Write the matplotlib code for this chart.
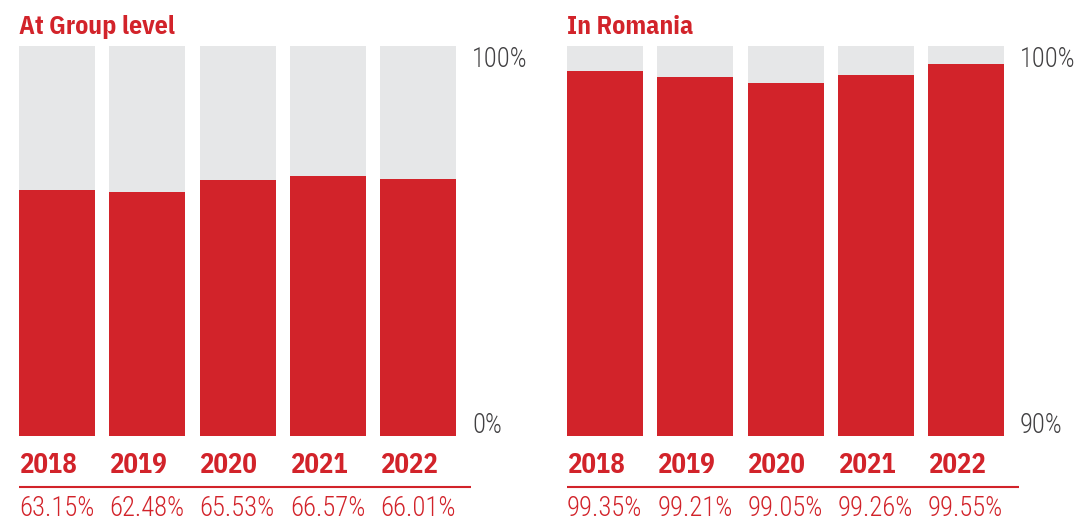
import os
import matplotlib
matplotlib.use("Agg")
import matplotlib.pyplot as plt
from matplotlib import font_manager as fm
from matplotlib.textpath import TextPath
from matplotlib.transforms import blended_transform_factory

# Share of the total, by year
years = ["2018", "2019", "2020", "2021", "2022"]
group_values = [63.15, 62.48, 65.53, 66.57, 66.01]
romania_values = [99.35, 99.21, 99.05, 99.26, 99.55]

panel_titles = ["At Group level", "In Romania"]
group_axis_labels = ["0%", "100%"]
romania_axis_labels = ["90%", "100%"]

RED = "#D2232A"
GREY_BG = "#E6E7E8"
TEXT_GREY = "#414042"

WEIGHTS = {"ultralight": 200, "light": 300, "normal": 400, "regular": 400, "book": 400,
           "medium": 500, "semibold": 600, "demibold": 600, "bold": 700, "heavy": 800,
           "extra bold": 800, "black": 900}
SANS_NAMES = ("sans", "roboto", "lato", "inter")


def _weight(f):
    return f.weight if isinstance(f.weight, int) else WEIGHTS.get(str(f.weight).lower(), 400)


def _is_sans(f):
    nm = f.name.lower()
    if "serif" in nm or "mono" in nm or "cjk" in nm:
        return False
    return any(k in nm for k in SANS_NAMES)


def _is_narrow(f):
    nm = (f.name + " " + os.path.basename(f.fname)).lower()
    return "condensed" in nm or "narrow" in nm or "condensed" in str(f.stretch).lower()


def _extent(fname, sample):
    tp = TextPath((0, 0), sample, size=100, prop=fm.FontProperties(fname=fname))
    e = tp.get_extents()
    return e.width, e.height


def pick_face(sample, ratio, wmin, wmax, wpref, wscale, narrow_bonus):
    """Installed upright sans face whose proportions for `sample` come closest to `ratio`."""
    best, best_score, best_h = None, None, None
    seen = set()
    for f in fm.fontManager.ttflist:
        if f.style != "normal" or f.fname in seen or not _is_sans(f):
            continue
        seen.add(f.fname)
        w = _weight(f)
        if not (wmin <= w <= wmax):
            continue
        try:
            ew, eh = _extent(f.fname, sample)
        except Exception:
            continue
        if eh <= 0:
            continue
        score = abs(ew / eh - ratio) + abs(w - wpref) / wscale
        if _is_narrow(f):
            score -= narrow_bonus
        if best_score is None or score < best_score:
            best, best_score, best_h = f.fname, score, eh
    return best, best_h


def size_for(height_px, h_per_100):
    # point size that gives a glyph height of height_px at 100 dpi
    return height_px * 72.0 / h_per_100


bold_path, bold_h = pick_face("2018", 54 / 19.0, 700, 900, 700, 400.0, 0.6)
light_path, light_h = pick_face("63.15%", 72 / 19.5, 250, 420, 300, 2000.0, 0.0)

FP_BOLD = fm.FontProperties(fname=bold_path)
FP_LIGHT = fm.FontProperties(fname=light_path)

year_size = size_for(19.3, bold_h)
value_size = size_for(19.5, light_h)
_, title_h = _extent(bold_path, "A")
title_size = size_for(18.0, title_h)
_, axis_h = _extent(light_path, "100%")
axis_size = size_for(19.4, axis_h)

W, H = 1078, 520
fig = plt.figure(figsize=(W / 100, H / 100), dpi=100)
fig.patch.set_facecolor("white")

bar_w = 76 / 90.25
AX_TOP, AX_BOT = 46, 436
AX_H = AX_BOT - AX_TOP


def px_axes(x0, x1, y_top, y_bot):
    return fig.add_axes([x0 / W, (H - y_bot) / H, (x1 - x0) / W, (y_bot - y_top) / H])


def panel(x0, x1, values, ymin, ymax, title, axis_labels):
    ax = px_axes(x0, x1, AX_TOP, AX_BOT)
    xs = list(range(len(values)))
    ax.bar(xs, [ymax - ymin] * len(xs), bottom=ymin, width=bar_w, color=GREY_BG, linewidth=0)
    ax.bar(xs, [v - ymin for v in values], bottom=ymin, width=bar_w, color=RED, linewidth=0)
    ax.set_xlim(-bar_w / 2, len(xs) - 1 + bar_w / 2)
    ax.set_ylim(ymin, ymax)
    ax.axis("off")
    pw = x1 - x0

    # panel title
    ax.text(0, 1.0 + 11.7 / AX_H, title, transform=ax.transAxes, color=RED,
            fontproperties=FP_BOLD, fontsize=title_size, ha="left", va="baseline")

    tr = blended_transform_factory(ax.transData, ax.transAxes)
    for i, (yr, v) in enumerate(zip(years, values)):
        ax.text(i - bar_w / 2, -37.3 / AX_H, yr, transform=tr, color=RED,
                fontproperties=FP_BOLD, fontsize=year_size, ha="left", va="baseline")
        ax.text(i - bar_w / 2, -80 / AX_H, f"{v:.2f}%", transform=tr, color=RED,
                fontproperties=FP_LIGHT, fontsize=value_size, ha="left", va="baseline")

    # rule between years and values
    ax.plot([0, 1 + 15 / pw], [-50.7 / AX_H, -50.7 / AX_H], transform=ax.transAxes,
            color=RED, lw=1.5, clip_on=False, solid_capstyle="butt")

    # scale end labels
    ax.text(1 + 16 / pw, 2.7 / AX_H, axis_labels[0], transform=ax.transAxes,
            color=TEXT_GREY, fontproperties=FP_LIGHT, fontsize=axis_size,
            ha="left", va="baseline")
    ax.text(1 + 16 / pw, 1 - 20.7 / AX_H, axis_labels[1], transform=ax.transAxes,
            color=TEXT_GREY, fontproperties=FP_LIGHT, fontsize=axis_size,
            ha="left", va="baseline")


panel(19, 456, group_values, 0, 100, panel_titles[0], group_axis_labels)
panel(567, 1004, romania_values, 90, 100, panel_titles[1], romania_axis_labels)

fig.savefig("out.png", dpi=100)
